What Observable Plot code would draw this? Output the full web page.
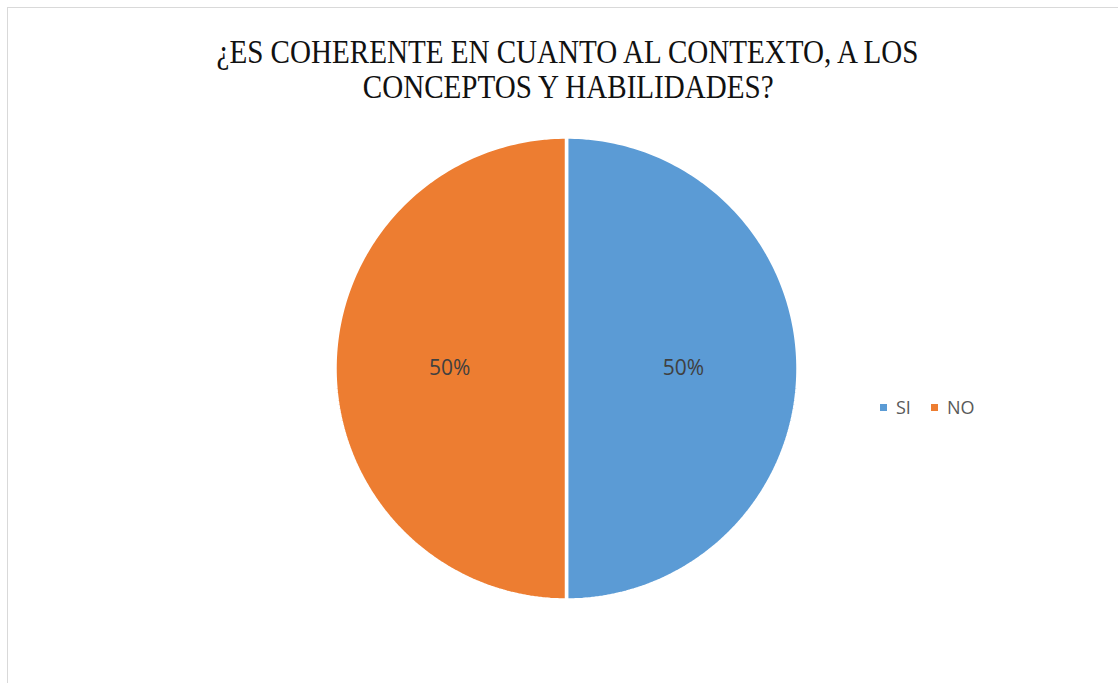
<!DOCTYPE html>
<html>
<head>
<meta charset="utf-8">
<script src="https://cdn.jsdelivr.net/npm/d3@7"></script>
<script src="https://cdn.jsdelivr.net/npm/@observablehq/plot@0.6"></script>
<style>
  html, body { margin: 0; padding: 0; background: #fff; }
  #wrap { position: relative; width: 1118px; height: 683px; overflow: hidden; background: #fff; }
  #frame { position: absolute; left: 7px; top: 7px; width: 1200px; height: 800px; border: 1px solid #d9d9d9; box-sizing: border-box; }
  #title { position: absolute; left: 0; top: 34px; width: 1136px; text-align: center; font-family: "Liberation Serif", serif; font-size: 34px; line-height: 35px; color: #111; }
  #title div { white-space: nowrap; height: 35px; }
  #title span { display: inline-block; transform-origin: center; line-height: 33px; height: 33px; }
  #chart { position: absolute; left: 0; top: 108px; }
  #legend { position: absolute; top: 395px; left: 880px; font-family: "Open Sans", sans-serif; font-size: 18px; color: #595959; display: flex; align-items: center; }
  .sw { display: inline-block; width: 7px; height: 7px; margin-right: 9px; }
  .item { display: flex; align-items: center; margin-right: 20px; }
</style>
</head>
<body>
<div id="wrap">
  <div id="frame"></div>
  <div id="title"></div>
  <div id="chart"></div>
  <div id="legend"></div>
</div>
<script>
const titleLines = ["¿ES COHERENTE EN CUANTO AL CONTEXTO, A LOS", "CONCEPTOS Y HABILIDADES?"];
const categories = ["SI", "NO"];
const values = [50, 50];
const colors = ["#5B9BD5", "#ED7D31"];

// Title (condensed serif)
const titleEl = document.getElementById("title");
titleLines.forEach(t => {
  const d = document.createElement("div");
  const s = document.createElement("span");
  s.textContent = t;
  s.style.transform = "scaleX(0.855)";
  d.appendChild(s);
  titleEl.appendChild(d);
});

// Pie slices via d3.pie angles, drawn as planar polygons with Plot.geo
const total = d3.sum(values);
const pie = d3.pie().sort(null).value(d => d)(values);
const slices = pie.map((p, i) => {
  const pts = [[0, 0]];
  const n = 180;
  for (let k = 0; k <= n; k++) {
    const a = p.startAngle + (p.endAngle - p.startAngle) * k / n;
    pts.push([Math.sin(a), Math.cos(a)]);
  }
  pts.push([0, 0]);
  const mid = (p.startAngle + p.endAngle) / 2;
  return {
    type: "Feature",
    properties: {
      cat: categories[i],
      label: Math.round(values[i] / total * 100) + "%",
      lx: 0.505 * Math.sin(mid),
      ly: 0.505 * Math.cos(mid)
    },
    geometry: { type: "Polygon", coordinates: [pts] }
  };
});

const domainSquare = { type: "Polygon", coordinates: [[[-1, -1], [1, -1], [1, 1], [-1, 1], [-1, -1]]] };

const plot = Plot.plot({
  width: 1118,
  height: 520,
  marginLeft: 14,
  marginRight: 0,
  marginTop: 0,
  marginBottom: 0,
  inset: 28.5,
  projection: { type: "reflect-y", domain: domainSquare },
  color: { domain: categories, range: colors },
  marks: [
    Plot.geo(slices, { fill: d => d.properties.cat, stroke: "#fff", strokeWidth: 3.5, strokeLinejoin: "miter" }),
    Plot.text(slices, {
      x: d => d.properties.lx,
      y: d => d.properties.ly,
      text: d => d.properties.label,
      fill: "#404040",
      fontSize: 21,
      fontFamily: "Open Sans"
    })
  ],
  style: { background: "transparent", overflow: "visible" }
});
document.getElementById("chart").appendChild(plot);

// Legend
const lg = document.getElementById("legend");
categories.forEach((c, i) => {
  const it = document.createElement("div");
  it.className = "item";
  const sw = document.createElement("span");
  sw.className = "sw";
  sw.style.background = colors[i];
  it.appendChild(sw);
  it.appendChild(document.createTextNode(c));
  lg.appendChild(it);
});
</script>
</body>
</html>
